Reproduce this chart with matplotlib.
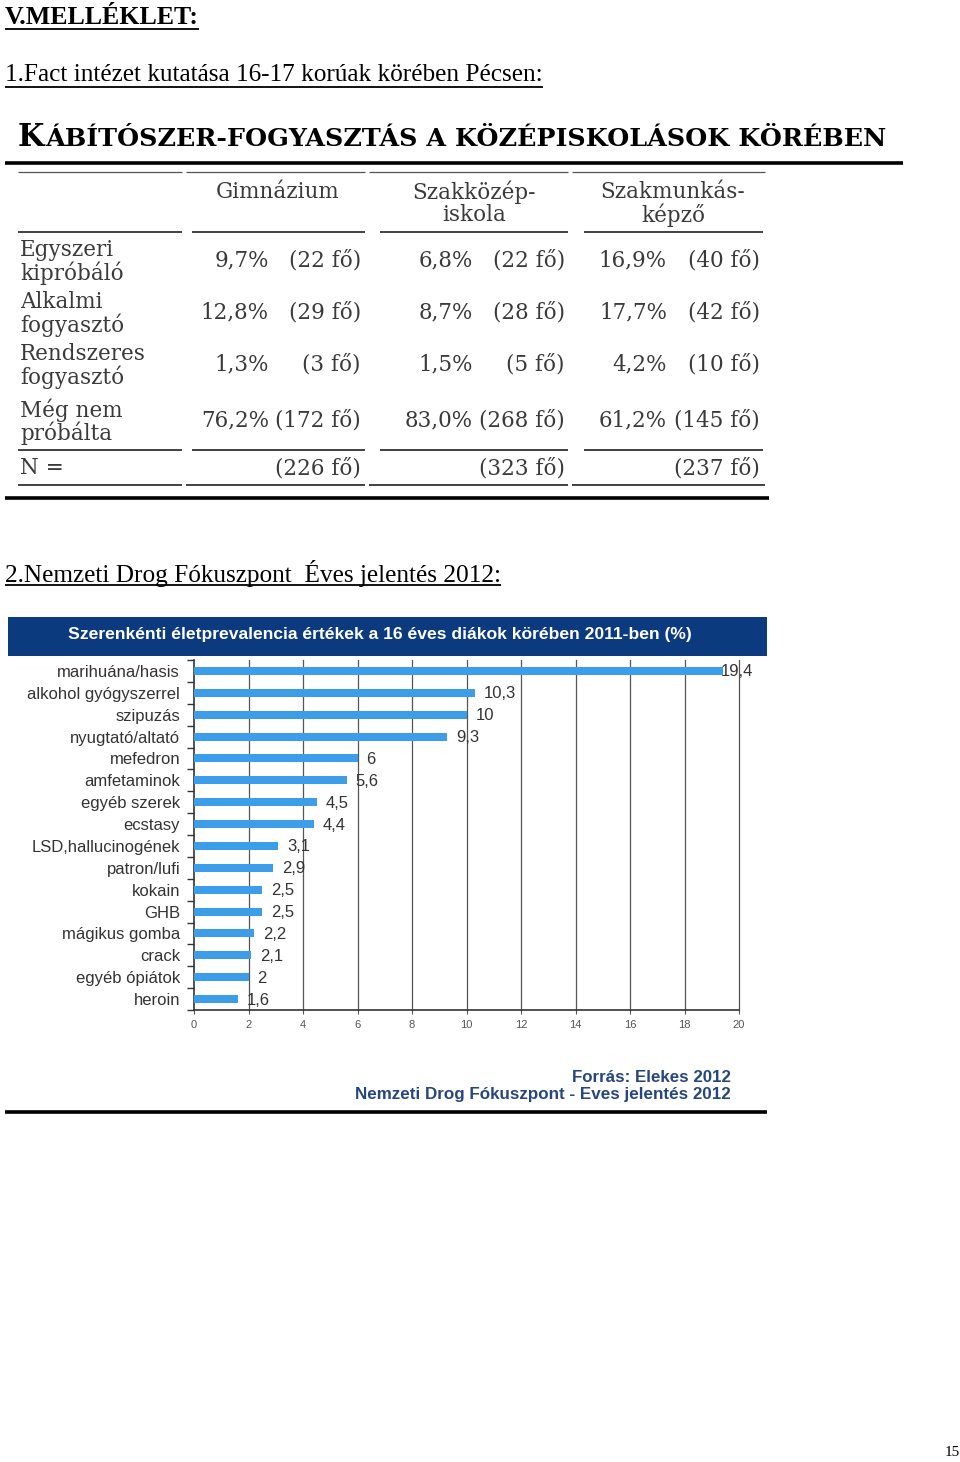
import matplotlib
matplotlib.use("Agg")
import matplotlib.pyplot as plt
from matplotlib.lines import Line2D
from matplotlib.patches import Rectangle

# ---------------- data ----------------
table_title = "KÁBÍTÓSZER-FOGYASZTÁS A KÖZÉPISKOLÁSOK KÖRÉBEN"
school_types = [["Gimnázium"], ["Szakközép-", "iskola"], ["Szakmunkás-", "képző"]]
row_labels = [["Egyszeri", "kipróbáló"], ["Alkalmi", "fogyasztó"],
              ["Rendszeres", "fogyasztó"], ["Még nem", "próbálta"]]
pct_gimn = [9.7, 12.8, 1.3, 76.2]
n_gimn = [22, 29, 3, 172]
pct_szakk = [6.8, 8.7, 1.5, 83.0]
n_szakk = [22, 28, 5, 268]
pct_szakm = [16.9, 17.7, 4.2, 61.2]
n_szakm = [40, 42, 10, 145]
n_total = [226, 323, 237]

chart_title = "Szerenkénti életprevalencia értékek a 16 éves diákok körében 2011-ben (%)"
drugs = ["marihuána/hasis", "alkohol gyógyszerrel", "szipuzás", "nyugtató/altató",
         "mefedron", "amfetaminok", "egyéb szerek", "ecstasy", "LSD,hallucinogének",
         "patron/lufi", "kokain", "GHB", "mágikus gomba", "crack", "egyéb ópiátok", "heroin"]
prevalence = [19.4, 10.3, 10, 9.3, 6, 5.6, 4.5, 4.4, 3.1, 2.9, 2.5, 2.5, 2.2, 2.1, 2, 1.6]
x_ticks = [0, 2, 4, 6, 8, 10, 12, 14, 16, 18, 20]
source_lines = ["Forrás: Elekes 2012", "Nemzeti Drog Fókuszpont - Eves jelentés 2012"]

# ---------------- figure helpers ----------------
W, H = 960, 1462
fig = plt.figure(figsize=(W / 100, H / 100), dpi=100)
fig.patch.set_facecolor("white")
renderer = fig.canvas.get_renderer()


def fx(x):
    return x / W


def fy(y):
    return 1 - y / H


def put(x, y, s, width=None, **kw):
    kw.setdefault("va", "center")
    t = fig.text(fx(x), fy(y), s, **kw)
    if width:
        bb = t.get_window_extent(renderer)
        t.set_fontsize(t.get_fontsize() * width / bb.width)
    return t


def hline(x0, x1, y, lw=1.0, color="black"):
    fig.add_artist(Line2D([fx(x0), fx(x1)], [fy(y), fy(y)], lw=lw, color=color,
                          transform=fig.transFigure, solid_capstyle="butt"))


def underline(t, y):
    bb = t.get_window_extent(renderer)
    hline(bb.x0, bb.x1, y, lw=1.3)


SERIF = "Liberation Serif"
TSERIF = "DejaVu Serif"
SANS = "Liberation Sans"

# ---------------- page headings ----------------
t = put(5, 17, "V.MELLÉKLET:", width=193, family=SERIF, weight="bold", fontsize=18, ha="left")
underline(t, 29)
t = put(5, 75, "1.Fact intézet kutatása 16-17 korúak körében Pécsen:", width=537,
        family=SERIF, fontsize=17, ha="left")
underline(t, 87)

# ---------------- table ----------------
tk = put(18, 137, table_title[0], family=TSERIF, weight="bold", fontsize=22, ha="left")
kb = tk.get_window_extent(renderer)
put(kb.x1 + 1, 139, table_title[1:], width=888 - kb.x1 - 1, family=TSERIF,
    weight="bold", fontsize=16, ha="left")
hline(5, 903, 163, lw=2.6)

seg_a = [(18, 182), (186, 365), (369, 568), (572, 765)]
seg_b = [(18, 182), (192, 365), (380, 568), (584, 763)]
for a, b in seg_a:
    hline(a, b, 172, lw=0.9, color="#555")
for y in (232, 450):
    for a, b in seg_b:
        hline(a, b, y, lw=1.3, color="#333")
for a, b in seg_a:
    hline(a, b, 485, lw=1.3, color="#333")
hline(5, 769, 498, lw=2.6)

TCOL = "#3a3a3a"
TFS = 15.5
head_x = [278, 474, 673]
for hx, lines in zip(head_x, school_types):
    for i, s in enumerate(lines):
        put(hx, 192 + 23 * i, s, family=TSERIF, fontsize=TFS, color=TCOL, ha="center")

row_y = [260, 312, 364, 420]
for ry, lines in zip(row_y, row_labels):
    put(20, ry - 10, lines[0], family=TSERIF, fontsize=TFS, color=TCOL, ha="left")
    put(20, ry + 13, lines[1], family=TSERIF, fontsize=TFS, color=TCOL, ha="left")


def pct(v):
    return f"{v:.1f}%".replace(".", ",")


cols = [(pct_gimn, n_gimn, 269, 361), (pct_szakk, n_szakk, 473, 565),
        (pct_szakm, n_szakm, 667, 760)]
for pvals, nvals, xp, xn in cols:
    for ry, p, n in zip(row_y, pvals, nvals):
        put(xp, ry, pct(p), family=TSERIF, fontsize=TFS, color=TCOL, ha="right")
        put(xn, ry, f"({n} fő)", family=TSERIF, fontsize=TFS, color=TCOL, ha="right")

put(20, 468, "N =", family=TSERIF, fontsize=TFS, color=TCOL, ha="left")
for (_, _, _, xn), n in zip(cols, n_total):
    put(xn, 468, f"({n} fő)", family=TSERIF, fontsize=TFS, color=TCOL, ha="right")

# ---------------- second heading ----------------
t = put(5, 573, "2.Nemzeti Drog Fókuszpont  Éves jelentés 2012:", width=495,
        family=SERIF, fontsize=17, ha="left")
underline(t, 585)

# ---------------- chart ----------------
fig.add_artist(Rectangle((fx(8), fy(656)), fx(767) - fx(8), fy(617) - fy(656),
                         transform=fig.transFigure, facecolor="#0b3a7e", edgecolor="none"))
put(380, 635, chart_title, width=621, family=SANS, weight="bold", fontsize=12,
    color="white", ha="center")

ax = fig.add_axes([fx(194), fy(1010), fx(739) - fx(194), fy(660) - fy(1010)])
ypos = list(range(len(drugs)))
ax.barh(ypos, prevalence, height=0.37, color="#3c9de8", zorder=3)
ax.set_xlim(x_ticks[0], x_ticks[-1])
ax.set_ylim(len(drugs) - 0.5, -0.36)
ax.set_xticks(x_ticks)
ax.set_xticklabels([str(v) for v in x_ticks])
ax.set_yticks(ypos)
ax.set_yticklabels(drugs)
ax.set_yticks([i + 0.5 for i in range(-1, len(drugs))], minor=True)
ax.tick_params(axis="y", which="major", length=0, pad=10, labelsize=12, labelcolor="#333")
ax.tick_params(axis="y", which="minor", length=5, width=1, color="#333")
ax.tick_params(axis="x", length=3, width=0.8, color="#555", labelsize=8,
               labelcolor="#555", pad=4)
for lab in ax.get_yticklabels():
    lab.set_family(SANS)
for lab in ax.get_xticklabels():
    lab.set_family(SANS)
for sp in ("top", "right"):
    ax.spines[sp].set_visible(False)
ax.spines["left"].set_color("#333")
ax.spines["bottom"].set_color("#333")
ax.spines["left"].set_linewidth(1.2)
ax.spines["bottom"].set_linewidth(1.2)
for v in x_ticks[1:]:
    ax.axvline(v, color="#555", lw=0.9, zorder=1, clip_on=False)

vmax = max(prevalence)
for i, v in enumerate(prevalence):
    off = -2 if v == vmax else 9
    ax.annotate(f"{v:g}".replace(".", ","), (v, i), xytext=(off, -1),
                textcoords="offset pixels", va="center", ha="left",
                fontsize=12, color="#333", family=SANS, zorder=4)

for i, s in enumerate(source_lines):
    put(731, 1077 + 18 * i, s, family=SANS, weight="bold", fontsize=10.5,
        color="#27467f", ha="right", width=(160 if i == 0 else 379))
hline(5, 767, 1112, lw=2.6)

# ---------------- page number ----------------
put(952, 1452, "15", family=SERIF, fontsize=11, ha="center")

fig.savefig("out.png", dpi=100, facecolor="white")
